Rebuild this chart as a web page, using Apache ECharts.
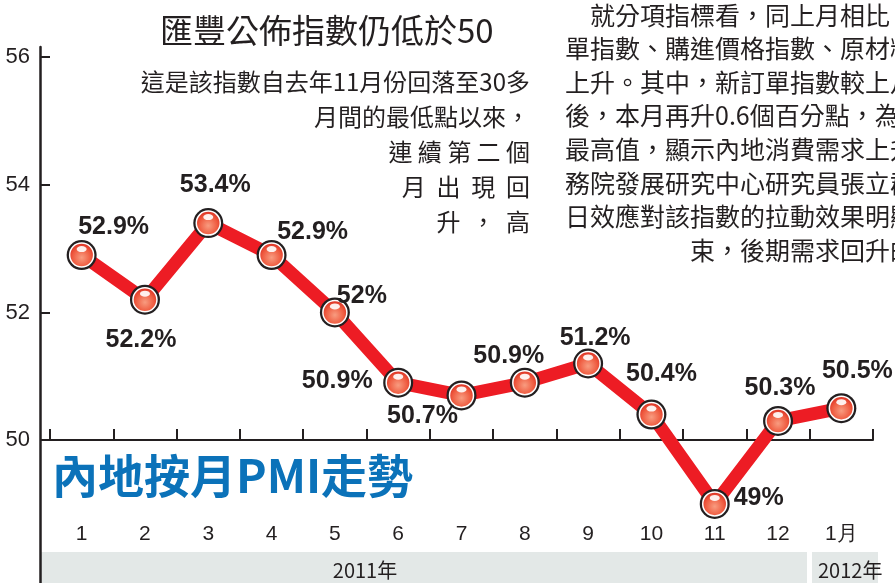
<!DOCTYPE html>
<html>
<head>
<meta charset="utf-8">
<script src="https://cdn.jsdelivr.net/npm/echarts@6/dist/echarts.min.js"></script>
<style>
  html, body { margin: 0; padding: 0; background: #fff; }
  #pmi { width: 895px; height: 583px; }
</style>
</head>
<body>
<div id="pmi"></div>
<script>
// 內地按月PMI走勢 2011年1月 - 2012年1月
const months = ['1', '2', '3', '4', '5', '6', '7', '8', '9', '10', '11', '12', '1月']
const pmi = [52.9, 52.2, 53.4, 52.9, 52.0, 50.9, 50.7, 50.9, 51.2, 50.4, 49.0, 50.3, 50.5]
const pmiLabels = ['52.9%', '52.2%', '53.4%', '52.9%', '52%', '50.9%', '50.7%', '50.9%', '51.2%', '50.4%', '49%', '50.3%', '50.5%']
const yTicks = [50, 52, 54, 56]
const years = ['2011年', '2012年']

// where each value label sits relative to its point
const labelOffsets = [[32, -28], [-4, 40], [7, -38], [41, -23], [27, -16], [-61, -2], [-39, 21],
  [-16, -27], [7, -25], [10, -40], [44, -6], [2, -33], [16, -37]]

const para1 = [
  '這是該指數自去年11月份回落至30多',
  '月間的最低點以來，',
  '連 續 第 二 個',
  '月  出  現  回',
  '升  ，  高'
]
const para2 = [
  '　就分項指標看，同上月相比，',
  '單指數、購進價格指數、原材料',
  '上升。其中，新訂單指數較上月',
  '後，本月再升0.6個百分點，為近',
  '最高值，顯示內地消費需求上升',
  '務院發展研究中心研究員張立群',
  '日效應對該指數的拉動效果明顯',
  '　　　　　束，後期需求回升的'
]

const dark = '#231f20'
const cjk = '"Noto Sans CJK TC", "Noto Sans CJK SC", sans-serif'
const latin = '"Liberation Sans", Arial, sans-serif'

let chart = echarts.init(document.getElementById('pmi'))

let graphics = [
  // year bands at the bottom
  { type: 'rect', shape: { x: 41, y: 552, width: 766, height: 31 }, style: { fill: '#e3e8e7' }, z: 0 },
  { type: 'rect', shape: { x: 812, y: 552, width: 66, height: 31 }, style: { fill: '#e3e8e7' }, z: 0 },
  { type: 'text', x: 365, y: 570, style: { text: years[0], font: '20px ' + cjk, fill: dark, align: 'center', verticalAlign: 'middle' } },
  { type: 'text', x: 818, y: 570, style: { text: years[1], font: '20px ' + cjk, fill: dark, align: 'left', verticalAlign: 'middle' } },
  // headline
  { type: 'text', x: 160, y: 30, style: { text: '匯豐公佈指數仍低於50', font: '33px ' + cjk, fill: dark, verticalAlign: 'middle' } },
  // blue chart title
  { type: 'text', x: 52, y: 476, style: { text: '內地按月PMI走勢', font: 'bold 46px ' + cjk, fill: '#0b72b9', verticalAlign: 'middle' } }
]
para1.forEach((t, i) => {
  graphics.push({ type: 'text', x: 530, y: 82 + i * 35, style: { text: t, font: '24px ' + cjk, fill: dark, align: 'right', verticalAlign: 'middle' } })
})
para2.forEach((t, i) => {
  graphics.push({ type: 'text', x: 565, y: 15 + i * 33.6, style: { text: t, font: '25px ' + cjk, fill: dark, align: 'left', verticalAlign: 'middle' } })
})

let ball = new echarts.graphic.RadialGradient(0.5, 0.6, 0.6, [
  { offset: 0, color: '#f89c80' },
  { offset: 0.6, color: '#ef5b40' },
  { offset: 1, color: '#d8271c' }
])

let option = {
  animation: false,
  grid: { left: 50, right: 22, top: 47, bottom: 0 },
  xAxis: {
    type: 'category',
    data: months,
    boundaryGap: true,
    offset: -143,
    axisLine: { show: true, lineStyle: { color: dark, width: 2 } },
    axisTick: { show: true, interval: 0, inside: true, length: 11, lineStyle: { color: dark, width: 2 } },
    axisLabel: { margin: 84, interval: 0, color: dark, fontSize: 21, fontFamily: latin }
  },
  yAxis: {
    type: 'value',
    min: 47.76,
    max: 56.16,
    offset: 10,
    axisLine: { show: true, lineStyle: { color: dark, width: 2.5 } },
    axisTick: { show: true, inside: true, length: 10, customValues: yTicks, lineStyle: { color: dark, width: 2 } },
    axisLabel: { customValues: yTicks, margin: 10, color: dark, fontSize: 22, fontFamily: latin },
    splitLine: { show: false }
  },
  graphic: graphics,
  series: [
    {
      // thick red line
      type: 'line',
      data: pmi,
      symbol: 'none',
      lineStyle: { color: '#ed1c24', width: 13, join: 'round' },
      z: 2
    },
    {
      // dark ring around each ball
      type: 'scatter',
      data: pmi,
      symbolSize: 30,
      itemStyle: { color: dark, opacity: 1 },
      z: 3
    },
    {
      type: 'scatter',
      data: pmi,
      symbolSize: 24,
      itemStyle: { color: ball, borderColor: '#fff', borderWidth: 1.5, opacity: 1 },
      label: {
        show: true,
        position: 'inside',
        fontSize: 25,
        fontWeight: 'bold',
        fontFamily: latin,
        color: dark,
        textBorderWidth: 0,
        formatter: p => pmiLabels[p.dataIndex]
      },
      labelLayout: p => ({ dx: labelOffsets[p.dataIndex][0], dy: labelOffsets[p.dataIndex][1] }),
      z: 4
    },
    {
      // small shine on top of the ball
      type: 'scatter',
      data: pmi,
      symbolSize: [10, 6],
      symbolOffset: [0, -6],
      itemStyle: { color: '#fff', opacity: 0.9 },
      z: 5
    }
  ]
}
chart.setOption(option)
</script>
</body>
</html>
